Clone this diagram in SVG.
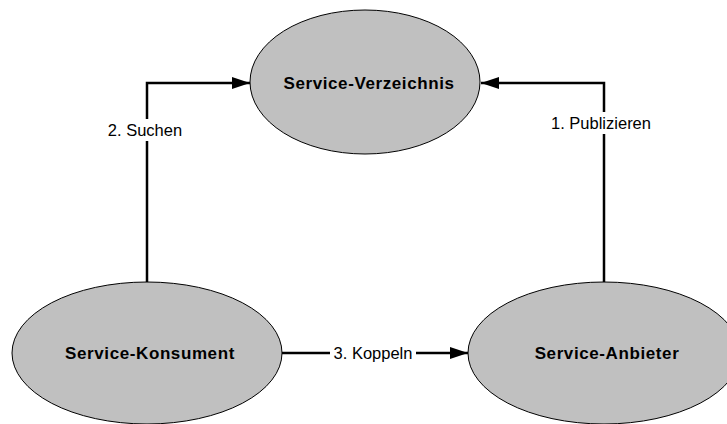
<svg xmlns="http://www.w3.org/2000/svg" width="727" height="424" viewBox="0 0 727 424">
  <style>
    .node ellipse { fill: #c0c0c0; stroke: #000; stroke-width: 1; }
    .node text { font-family: "Liberation Sans", Arial, sans-serif; font-size: 17px; letter-spacing: 0.6px; font-weight: bold; text-anchor: middle; dominant-baseline: central; fill: #000; }
    .edge { fill: none; stroke: #000; stroke-width: 2.5; }
    .elabel { font-family: "Liberation Sans", Arial, sans-serif; font-size: 16.5px; text-anchor: middle; dominant-baseline: central; fill: #000; }
    .lbg { fill: #fff; }
  </style>
  <defs>
    <marker id="arrow" markerUnits="userSpaceOnUse" markerWidth="20" markerHeight="14" refX="18" refY="6" orient="auto">
      <path d="M0,0 L18,6 L0,12 Z" fill="#000"/>
    </marker>
  </defs>
  <rect width="727" height="424" fill="#fff"/>

  <g id="connectors">
    <path class="edge" d="M147,282 V83 H250" marker-end="url(#arrow)"/>
    <rect class="lbg" x="104" y="119" width="82" height="22"/>
    <text class="elabel" x="145" y="130">2. Suchen</text>

    <path class="edge" d="M604,282 V83 H481" marker-end="url(#arrow)"/>
    <rect class="lbg" x="547" y="112" width="108" height="22"/>
    <text class="elabel" x="601" y="123">1. Publizieren</text>

    <path class="edge" d="M282,353 H468" marker-end="url(#arrow)"/>
    <rect class="lbg" x="330" y="342" width="86" height="22"/>
    <text class="elabel" x="373" y="353">3. Koppeln</text>
  </g>

  <g id="service-verzeichnis" class="node">
    <ellipse cx="365" cy="82" rx="115" ry="72"/>
    <text x="369" y="83">Service-Verzeichnis</text>
  </g>
  <g id="service-konsument" class="node">
    <ellipse cx="147" cy="353" rx="135" ry="71"/>
    <text x="150" y="353">Service-Konsument</text>
  </g>
  <g id="service-anbieter" class="node">
    <ellipse cx="604" cy="353" rx="136" ry="71"/>
    <text x="607" y="353">Service-Anbieter</text>
  </g>
</svg>
